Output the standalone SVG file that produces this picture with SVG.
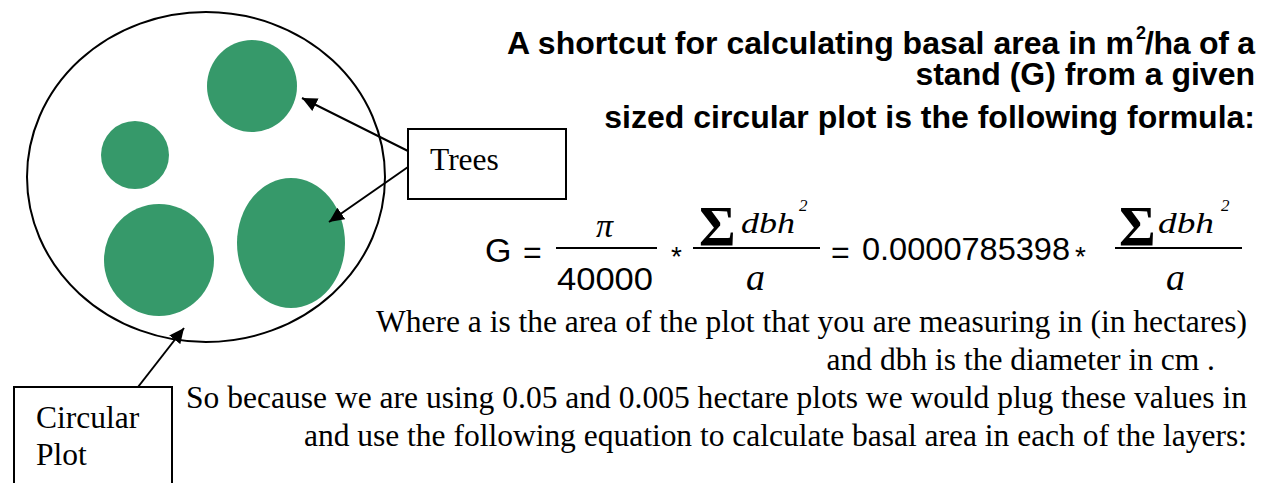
<svg xmlns="http://www.w3.org/2000/svg" width="1262" height="483" viewBox="0 0 1262 483">
<style>
.tree{fill:#36996a;stroke:none}
.plot{fill:none;stroke:#000;stroke-width:2}
.box{fill:#fff;stroke:#000;stroke-width:2}
.conn{stroke:#000;stroke-width:2;fill:none}
.serif{font-family:"Liberation Serif","Times New Roman",serif;font-size:31.5px;fill:#000}
.head{font-family:"Liberation Sans",Arial,sans-serif;font-weight:bold;font-size:32px;fill:#000}
.sup{font-family:"Liberation Sans",Arial,sans-serif;font-weight:bold;font-size:18px;fill:#000}
.num{font-family:"Liberation Sans",Arial,sans-serif;font-size:32px;fill:#000}
.ast{font-family:"Liberation Sans",Arial,sans-serif;font-size:28px;fill:#000}
.it{font-family:"Liberation Serif","Times New Roman",serif;font-style:italic;fill:#000}
.sig{font-family:"Liberation Serif","Times New Roman",serif;font-weight:bold;font-size:56px;fill:#000}
.bar{stroke:#000;stroke-width:2}
</style>
<defs>
<marker id="ah" markerUnits="userSpaceOnUse" markerWidth="16" markerHeight="14" refX="15" refY="7" orient="auto">
<path d="M0,0 L15,7 L0,14 z" fill="#000"/>
</marker>
</defs>
<g id="plot">
<ellipse class="plot" cx="206" cy="177" rx="179" ry="165"/>
</g>
<g id="tree1"><ellipse class="tree" cx="252" cy="86" rx="45" ry="46"/></g>
<g id="tree2"><ellipse class="tree" cx="135" cy="155" rx="34" ry="34"/></g>
<g id="tree3"><ellipse class="tree" cx="159" cy="260" rx="55" ry="56"/></g>
<g id="tree4"><ellipse class="tree" cx="291" cy="243" rx="54" ry="65"/></g>
<g id="connectors">
<line class="conn" x1="408" y1="151" x2="302" y2="98" marker-end="url(#ah)"/>
<line class="conn" x1="408" y1="167" x2="329" y2="222" marker-end="url(#ah)"/>
<line class="conn" x1="138" y1="387" x2="184" y2="328" marker-end="url(#ah)"/>
</g>
<g id="trees-label">
<rect class="box" x="408" y="129" width="158" height="70"/>
<text class="serif" x="430" y="170">Trees</text>
</g>
<g id="circular-plot-label">
<rect class="box" x="14" y="387" width="158" height="120"/>
<text class="serif" x="36" y="428">Circular</text>
<text class="serif" x="36" y="465">Plot</text>
</g>
<g id="heading">
<text class="head" x="507" y="54" textLength="627" lengthAdjust="spacing">A shortcut for calculating basal area in m</text>
<text class="sup" x="1136" y="39">2</text>
<text class="head" x="1145" y="54" textLength="110" lengthAdjust="spacing">/ha of a</text>
<text class="head" x="1255" y="85" text-anchor="end">stand (G) from a given</text>
<text class="head" x="1255" y="128" text-anchor="end">sized circular plot is the following formula:</text>
</g>
<g id="formula">
<text class="num" x="485" y="262" style="font-size:34px">G</text>
<text class="num" x="523" y="263">=</text>
<line class="bar" x1="556" y1="248" x2="657" y2="248"/>
<text class="it" x="596" y="237" font-size="34">π</text>
<text class="num" x="557" y="290" textLength="96" lengthAdjust="spacingAndGlyphs">40000</text>
<text class="ast" x="671" y="266">*</text>
<line class="bar" x1="693" y1="248" x2="820" y2="248"/>
<text class="sig" x="699" y="246">Σ</text>
<text class="it" x="741" y="233" font-size="30" textLength="54" lengthAdjust="spacingAndGlyphs">dbh</text>
<text class="it" x="799" y="211" font-size="17">2</text>
<text class="it" x="746" y="290" font-size="38">a</text>
<text class="num" x="831" y="263">=</text>
<text class="num" x="862" y="260" textLength="208" lengthAdjust="spacingAndGlyphs">0.0000785398</text>
<text class="ast" x="1075" y="266">*</text>
<line class="bar" x1="1115" y1="248" x2="1242" y2="248"/>
<text class="sig" x="1119" y="246">Σ</text>
<text class="it" x="1158" y="233" font-size="30" textLength="56" lengthAdjust="spacingAndGlyphs">dbh</text>
<text class="it" x="1221" y="211" font-size="17">2</text>
<text class="it" x="1166" y="290" font-size="38">a</text>
</g>
<g id="body">
<text class="serif" x="376" y="332" textLength="871" lengthAdjust="spacing">Where a is the area of the plot that you are measuring in (in hectares)</text>
<text class="serif" x="1215" y="370" text-anchor="end">and dbh is the diameter in cm .</text>
<text class="serif" x="186" y="408" textLength="1061" lengthAdjust="spacing">So because we are using 0.05 and 0.005 hectare plots we would plug these values in</text>
<text class="serif" x="304" y="446" textLength="943" lengthAdjust="spacing">and use the following equation to calculate basal area in each of the layers:</text>
</g>
</svg>
